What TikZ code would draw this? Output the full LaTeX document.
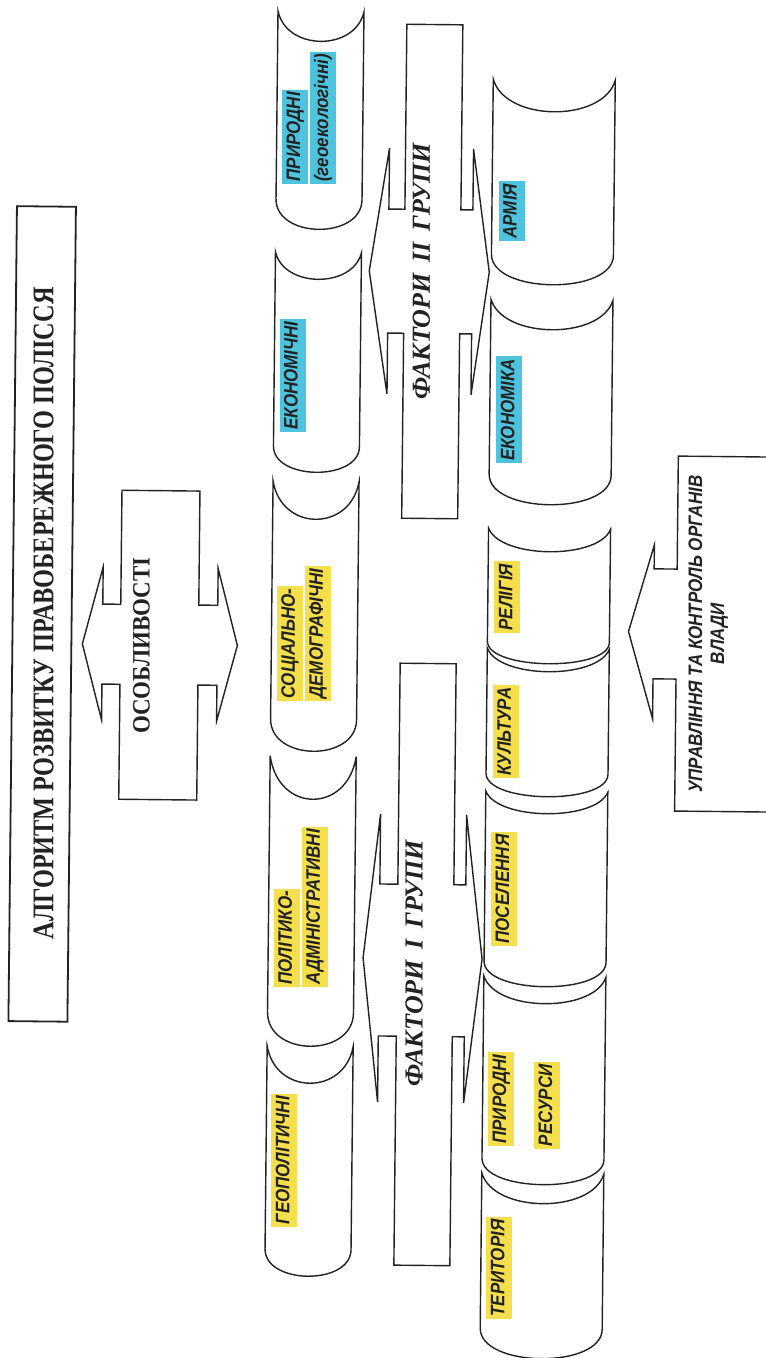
\documentclass[tikz,border=0pt]{standalone}
\usepackage{fontspec}
\setmainfont{Liberation Serif}
\newfontfamily\sansl{Liberation Sans}[FakeStretch=0.87]
\newfontfamily\sern{Liberation Serif}[FakeStretch=0.81]
\newfontfamily\serm{Liberation Serif}[FakeStretch=0.92]
\definecolor{hlY}{HTML}{F5DF4D}
\definecolor{hlC}{HTML}{4EC3DD}
\definecolor{ink}{HTML}{222222}
\tikzset{
  shp/.style={draw=ink, line width=1.4pt, line join=miter},
  lab/.style={rotate=90, anchor=west, inner xsep=2.5pt, inner ysep=3.5pt,
    text height=14.5pt, text depth=4.5pt, text=ink,
    font=\sansl\bfseries\itshape\fontsize{19.5}{22}\selectfont},
  plain/.style={rotate=90, text=ink, inner sep=0pt},
}
\newcommand\scroll[6]{%
  \pgfmathsetmacro\cA{#3+1.333*(#4-#3)}%
  \pgfmathsetmacro\cB{#5+1.333*(#6-#5)}%
  \pgfmathsetmacro\wA{0.10*(#2-#1)}%
  \draw[shp] (#1,#3) .. controls ({#1+\wA},\cA) and ({#2-\wA},\cA) .. (#2,#3)
    -- (#2,#5) .. controls (#2,\cB) and (#1,\cB) .. (#1,#5) -- cycle;}
\begin{document}
\begin{tikzpicture}[x=1pt,y=-1pt]
\useasboundingbox (0,0) rectangle (766,1358);
\fill[white] (0,0) rectangle (766,1358);
\clip (0,0) rectangle (766,1358);
\begin{scope}[rotate around={-0.6:(383,679)}]
% title box
\draw[shp, line width=1.8pt] (12,210) rectangle (71,1025);
\node[plain, font=\sern\bfseries\fontsize{30}{34}\selectfont] (title) at (43,617) {АЛГОРИТМ РОЗВИТКУ ПРАВОБЕРЕЖНОГО ПОЛІССЯ};
% ОСОБЛИВОСТІ double arrow
\draw[shp] (120,493) -- (198,493) -- (198,607) -- (217,607) -- (217,570) -- (237,647)
  -- (217,723) -- (217,687) -- (198,687) -- (198,802) -- (120,802) -- (120,687)
  -- (102,687) -- (102,723) -- (82,647) -- (102,570) -- (102,607) -- (120,607) -- cycle;
\node[plain, font=\serm\bfseries\fontsize{25}{28}\selectfont] (osob) at (141,648) {ОСОБЛИВОСТІ};
% column 1
\scroll{271}{357}{12}{42}{200}{230}
\scroll{271}{357}{253}{280}{447}{473}
\scroll{271}{357}{482}{520}{720}{752}
\scroll{271}{357}{757}{800}{1013}{1047}
\scroll{271}{357}{1047}{1084}{1250}{1277}
\node[lab, fill=hlC] (c1a) at (290,185) {ПРИРОДНІ};
\node[lab, fill=hlC] (c1b) at (318,185) {(геоекологічні)};
\node[lab, fill=hlC] (c2) at (290,433) {ЕКОНОМІЧНІ};
\node[lab, fill=hlY] (c3a) at (290,702) {СОЦІАЛЬНО-};
\node[lab, fill=hlY] (c3b) at (318,702) {ДЕМОГРАФІЧНІ};
\node[lab, fill=hlY] (c4a) at (290,988) {ПОЛІТИКО-};
\node[lab, fill=hlY] (c4b) at (318,988) {АДМІНІСТРАТИВНІ};
\node[lab, fill=hlY] (c5) at (290,1228) {ГЕОПОЛІТИЧНІ};
% column 2 : factor arrows
\draw[shp] (400,24) -- (456,24) -- (456,209) -- (468,209) -- (468,148) -- (485,271)
  -- (468,394) -- (468,333) -- (456,333) -- (456,518) -- (400,518) -- (400,333)
  -- (384,333) -- (384,394) -- (365,271) -- (384,148) -- (384,209) -- (400,209) -- cycle;
\node[plain, font=\bfseries\itshape\fontsize{26}{30}\selectfont] (f2) at (417,271) {ФАКТОРИ \,II\, ГРУПИ};
\draw[shp] (400,663) -- (456,663) -- (456,884) -- (468,884) -- (468,814) -- (485,958)
  -- (468,1102) -- (468,1036) -- (456,1036) -- (456,1265) -- (400,1265) -- (400,1036)
  -- (382,1036) -- (382,1102) -- (366,958) -- (382,814) -- (382,884) -- (400,884) -- cycle;
\node[plain, font=\bfseries\itshape\fontsize{26}{30}\selectfont] (f1) at (417,963) {ФАКТОРИ \,I\, ГРУПИ};
% column 3
\scroll{487}{609}{78}{110}{253}{283}
\scroll{487}{609}{298}{328}{473}{503}
\scroll{487}{609}{527}{550}{640}{662}
\scroll{487}{609}{647}{670}{772}{795}
\scroll{487}{609}{790}{812}{960}{985}
\scroll{487}{609}{975}{1002}{1157}{1183}
\scroll{487}{609}{1172}{1202}{1327}{1357}
\node[lab, fill=hlC] (d1) at (507,240) {АРМІЯ};
\node[lab, fill=hlC] (d2) at (507,462) {ЕКОНОМІКА};
\node[lab, fill=hlY] (d3) at (507,632) {РЕЛІГІЯ};
\node[lab, fill=hlY] (d4) at (507,777) {КУЛЬТУРА};
\node[lab, fill=hlY] (d5) at (507,945) {ПОСЕЛЕННЯ};
\node[lab, fill=hlY] (d6a) at (506,1145) {ПРИРОДНІ};
\node[lab, fill=hlY] (d6b) at (552,1147) {РЕСУРСИ};
\node[lab, fill=hlY] (d7) at (506,1318) {ТЕРИТОРІЯ};
% column 4
\draw[shp] (780,453) -- (676,453) -- (676,566) -- (653,566) -- (653,542) -- (628,629)
  -- (653,716) -- (653,676) -- (676,676) -- (676,808) -- (780,808);
\node[plain, font=\sansl\bfseries\itshape\fontsize{19.5}{22}\selectfont] (u1) at (695,631) {УПРАВЛІННЯ ТА КОНТРОЛЬ ОРГАНІВ};
\node[plain, font=\sansl\bfseries\itshape\fontsize{19.5}{22}\selectfont] (u2) at (719,630) {ВЛАДИ};
\end{scope}
\end{tikzpicture}
\end{document}
